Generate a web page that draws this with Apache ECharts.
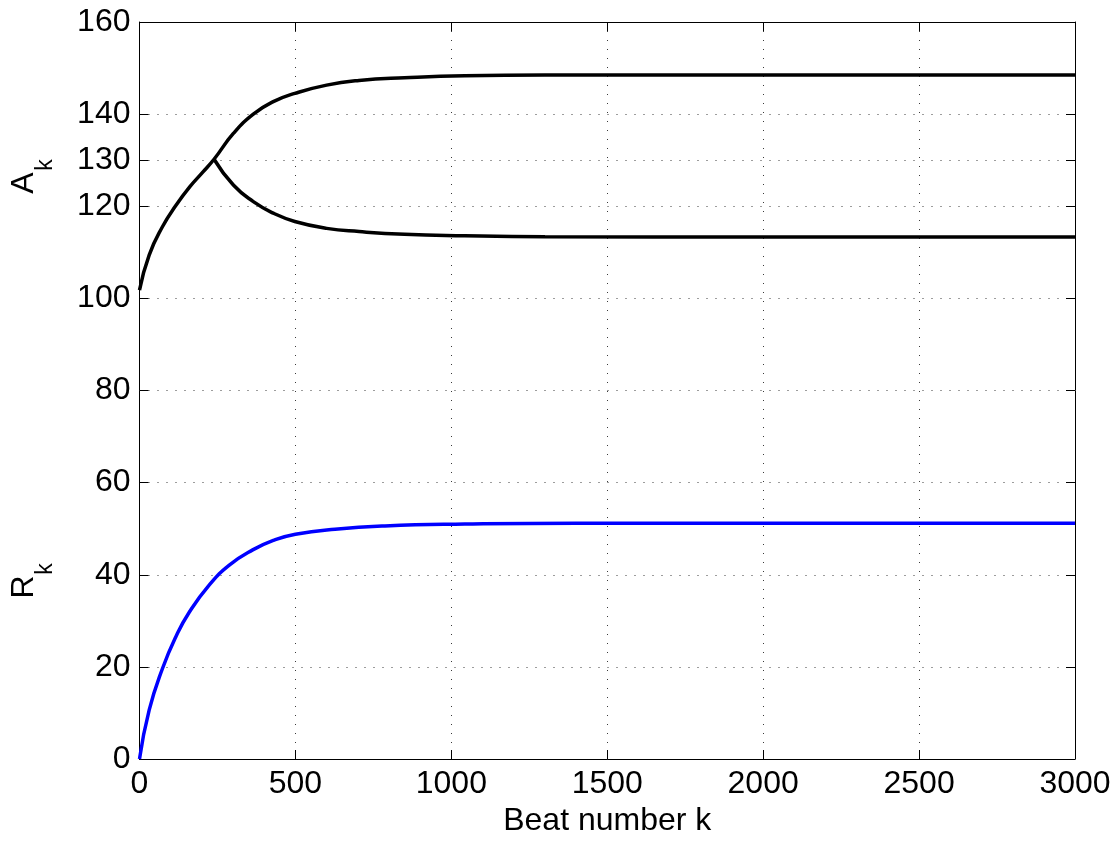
<!DOCTYPE html>
<html>
<head>
<meta charset="utf-8">
<script src="https://cdn.jsdelivr.net/npm/echarts@6/dist/echarts.min.js"></script>
<style>
  html, body { margin: 0; padding: 0; background: #fff; }
  #chart { width: 1116px; height: 845px; }
</style>
</head>
<body>
<div id="chart"></div>
<script>
// A_k before the period-doubling bifurcation
const kRise = [0, 31, 74, 117, 161, 203, 239];
const aRise = [101.8, 109.4, 115.6, 120.2, 124.2, 127.4, 130.2];

// After the bifurcation A_k alternates between an upper and a lower branch
const kBranch = [239, 301, 365, 429, 498, 600, 704, 850, 1043, 1300, 2000, 3000];
const aUpper = [130.2, 135.8, 140.0, 142.7, 144.5, 146.3, 147.3, 147.9, 148.35, 148.5, 148.5, 148.5];
const aLower = [130.2, 124.6, 121.0, 118.5, 116.7, 115.2, 114.5, 113.9, 113.6, 113.4, 113.3, 113.3];

// R_k
const kR = [0, 31, 74, 117, 160, 224, 288, 363, 432, 500, 627, 787, 1043, 1400, 2000, 3000];
const rVals = [0, 10.6, 19.7, 26.6, 31.9, 37.8, 42.1, 45.4, 47.5, 48.8, 49.9, 50.6, 51.0, 51.2, 51.2, 51.2];

// Axis ticks
const xTicks = [0, 500, 1000, 1500, 2000, 2500, 3000];
const yTicks = [0, 20, 40, 60, 80, 100, 120, 130, 140, 160];

const FONT = 'Liberation Sans, Arial, Helvetica, sans-serif';
const FS = 32;
const pairs = (xs, ys) => xs.map((x, i) => [x, ys[i]]);

const upperData = pairs(kRise, aRise).concat(pairs(kBranch.slice(1), aUpper.slice(1)));
const lowerData = pairs(kBranch, aLower);
const rData = pairs(kR, rVals);

const gridLine = { show: true, lineStyle: { color: '#3a3a3a', width: 1, type: [1, 8] } };
const axisLine = { show: true, onZero: false, lineStyle: { color: '#000', width: 1 } };
const tick = { show: true, inside: true, length: 9, lineStyle: { color: '#000', width: 1 } };
const plain = v => String(v);

const chart = echarts.init(document.getElementById('chart'), null, { renderer: 'canvas' });
chart.setOption({
  animation: false,
  backgroundColor: '#fff',
  grid: { left: 139.5, right: 41, top: 22, bottom: 86, containLabel: false },
  xAxis: [
    {
      type: 'value', min: 0, max: 3000, interval: 500, position: 'bottom',
      axisLine, axisTick: tick, splitLine: gridLine,
      axisLabel: { customValues: xTicks, formatter: plain, color: '#000', fontSize: FS, fontFamily: FONT, margin: 9 },
      name: 'Beat number k', nameLocation: 'middle', nameGap: 42,
      nameTextStyle: { color: '#000', fontSize: FS, fontFamily: FONT }
    },
    {
      type: 'value', min: 0, max: 3000, interval: 500, position: 'top',
      axisLine, axisTick: tick, splitLine: { show: false }, axisLabel: { show: false }
    }
  ],
  yAxis: [
    {
      type: 'value', min: 0, max: 160, position: 'left',
      axisLine,
      axisTick: Object.assign({ customValues: yTicks }, tick),
      axisLabel: { customValues: yTicks, formatter: plain, color: '#000', fontSize: FS, fontFamily: FONT, margin: 9 },
      splitLine: gridLine
    },
    {
      type: 'value', min: 0, max: 160, position: 'right',
      axisLine,
      axisTick: Object.assign({ customValues: yTicks }, tick),
      axisLabel: { show: false, customValues: yTicks },
      splitLine: { show: false }
    }
  ],
  series: [
    {
      name: 'A_k upper', type: 'line', data: upperData, smooth: 0.5,
      showSymbol: false, lineStyle: { color: '#000', width: 3.5 }
    },
    {
      name: 'A_k lower', type: 'line', data: lowerData, smooth: 0.5,
      showSymbol: false, lineStyle: { color: '#000', width: 3.5 }
    },
    {
      name: 'R_k', type: 'line', data: rData, smooth: 0.5,
      showSymbol: false, lineStyle: { color: '#0000ff', width: 3.5 }
    }
  ],
  graphic: [
    { type: 'text', x: 24, y: 183, rotation: Math.PI / 2,
      style: { text: 'A', fontSize: FS, fontFamily: FONT, fill: '#000', align: 'center', verticalAlign: 'middle' } },
    { type: 'text', x: 46, y: 165, rotation: Math.PI / 2,
      style: { text: 'k', fontSize: 23, fontFamily: FONT, fill: '#000', align: 'center', verticalAlign: 'middle' } },
    { type: 'text', x: 24, y: 587, rotation: Math.PI / 2,
      style: { text: 'R', fontSize: FS, fontFamily: FONT, fill: '#000', align: 'center', verticalAlign: 'middle' } },
    { type: 'text', x: 46, y: 569, rotation: Math.PI / 2,
      style: { text: 'k', fontSize: 23, fontFamily: FONT, fill: '#000', align: 'center', verticalAlign: 'middle' } }
  ]
});
</script>
</body>
</html>
